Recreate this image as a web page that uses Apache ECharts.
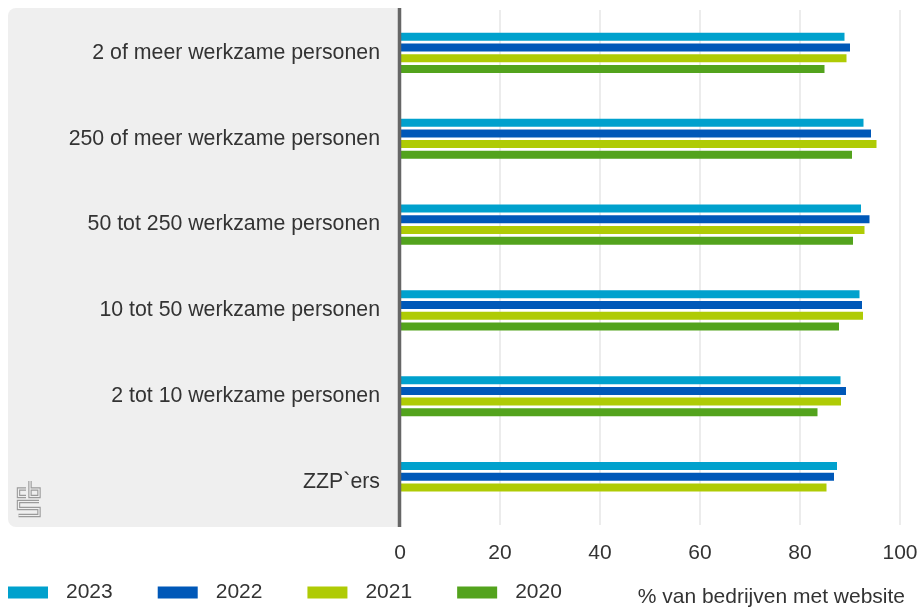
<!DOCTYPE html>
<html>
<head>
<meta charset="utf-8">
<script src="https://cdn.jsdelivr.net/npm/echarts@6/dist/echarts.min.js"></script>
<style>
html,body{margin:0;padding:0;background:#fff;}
#chart{width:921px;height:608px;}
</style>
</head>
<body>
<div id="chart"></div>
<script>
const categories = [
  "2 of meer werkzame personen",
  "250 of meer werkzame personen",
  "50 tot 250 werkzame personen",
  "10 tot 50 werkzame personen",
  "2 tot 10 werkzame personen",
  "ZZP`ers"
];
const seriesNames = ["2023", "2022", "2021", "2020"];
const values2023 = [88.9, 92.7, 92.2, 91.9, 88.1, 87.4];
const values2022 = [90.0, 94.2, 93.9, 92.4, 89.2, 86.8];
const values2021 = [89.3, 95.3, 92.9, 92.6, 88.2, 85.3];
const values2020 = [84.9, 90.4, 90.6, 87.8, 83.5, null];
const xTicks = [0, 20, 40, 60, 80, 100];
const axisTitle = "% van bedrijven met website";
const colors = ["#00a1cd", "#0058b8", "#afcb05", "#53a31d"];

const allValues = [values2023, values2022, values2021, values2020];
const FONT = "'Liberation Sans', Arial, sans-serif";

const chart = echarts.init(document.getElementById('chart'), null, {renderer: 'canvas'});

const series = seriesNames.map((name, i) => ({
  name: name,
  type: 'bar',
  data: allValues[i],
  barWidth: 8,
  barGap: '34%',
  itemStyle: {color: colors[i]},
  emphasis: {disabled: true},
  z: 3
}));

const logoPaths = [
  [[26,489],[18.5,489],[18.5,496.5],[26,496.5]],
  [[30,481],[30,496.5],[39,496.5],[39,489],[30,489]],
  [[39,501.5],[18.5,501.5],[18.5,508.5],[39,508.5],[39,515.5],[18.5,515.5]]
];
const logoGraphics = [];
logoPaths.forEach(p => {
  logoGraphics.push({type:'polyline', shape:{points:p}, style:{stroke:'#9a9a9a', lineWidth:3.4, fill:null, lineJoin:'miter'}, z:1, silent:true});
  logoGraphics.push({type:'polyline', shape:{points:p}, style:{stroke:'#efefef', lineWidth:1.2, fill:null, lineJoin:'miter'}, z:2, silent:true});
});

chart.setOption({
  animation: false,
  backgroundColor: '#ffffff',
  color: colors,
  textStyle: {fontFamily: FONT},
  grid: {left: 400, right: 21, top: 10, bottom: 83, containLabel: false},
  xAxis: {
    type: 'value',
    min: xTicks[0],
    max: xTicks[xTicks.length - 1],
    interval: 20,
    axisLine: {show: false},
    axisTick: {show: false},
    splitLine: {show: true, lineStyle: {color: '#ececec', width: 2}},
    axisLabel: {fontSize: 21, color: '#333333', margin: 18, fontFamily: FONT}
  },
  yAxis: {
    type: 'category',
    inverse: true,
    data: categories,
    axisLine: {show: false},
    axisTick: {show: false},
    splitLine: {show: false},
    axisLabel: {fontSize: 21.3, color: '#333333', margin: 20, fontFamily: FONT, padding: [4, 0, 0, 0]}
  },
  legend: {
    left: 3,
    top: 577,
    itemWidth: 40,
    itemHeight: 12,
    itemGap: 45,
    icon: 'rect',
    itemStyle: {borderWidth: 0},
    textStyle: {fontSize: 21, color: '#333333', fontFamily: FONT, padding: [0, 0, 0, 13]},
    selectedMode: false
  },
  graphic: [
    {type: 'rect', shape: {x: 8, y: 8, width: 392, height: 519, r: [8, 0, 0, 8]}, style: {fill: '#efefef'}, z: -10, silent: true},
    {type: 'line', shape: {x1: 399.5, y1: 8, x2: 399.5, y2: 527}, style: {stroke: '#666666', lineWidth: 3.5}, z: 10, silent: true},
    {type: 'text', right: 16, top: 587, style: {text: axisTitle, fontSize: 21, fill: '#333333', fontFamily: FONT}, silent: true}
  ].concat(logoGraphics),
  series: series
});
</script>
</body>
</html>
